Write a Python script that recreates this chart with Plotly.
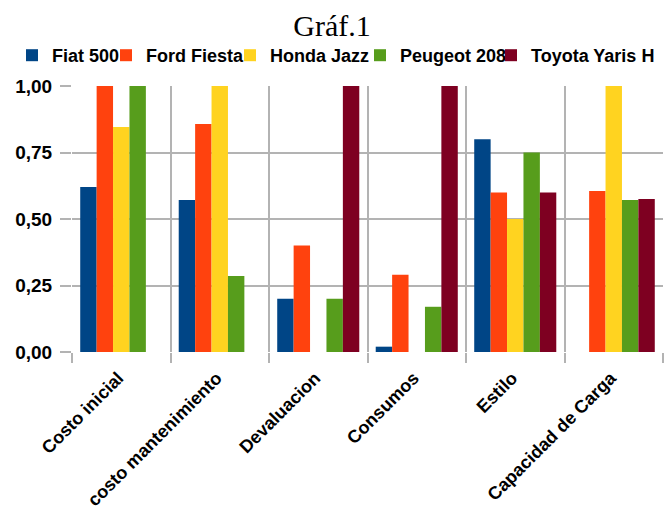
import plotly.graph_objects as go

# categories on the x axis
criterios = [
    "Costo inicial",
    "costo mantenimiento",
    "Devaluacion",
    "Consumos",
    "Estilo",
    "Capacidad de Carga",
]

# normalised scores per car
fiat_500 = [0.62, 0.571, 0.20, 0.02, 0.80, 0.0]
ford_fiesta = [1.00, 0.857, 0.40, 0.29, 0.60, 0.605]
honda_jazz = [0.846, 1.00, 0.0, 0.0, 0.50, 1.00]
peugeot_208 = [1.00, 0.286, 0.20, 0.17, 0.75, 0.571]
toyota_yaris = [0.0, 0.0, 1.00, 1.00, 0.60, 0.575]

y_ticks = [0, 0.25, 0.5, 0.75, 1.0]

# the source chart cuts the last name at the right edge
series = [
    ("Fiat 500", fiat_500, "#004586"),
    ("Ford Fiesta", ford_fiesta, "#ff420e"),
    ("Honda Jazz", honda_jazz, "#ffd320"),
    ("Peugeot 208", peugeot_208, "#579d1c"),
    ("Toyota Yaris H", toyota_yaris, "#7e0021"),
]

W, H = 664, 517
GRID = "#b3b3b3"
FONT = "Liberation Sans"

# left edge (px) of each legend entry, one legend per series so the row
# keeps the tight spacing of the original
legend_px = [12, 106, 230, 360, 491]
legend_ids = ["legend", "legend2", "legend3", "legend4", "legend5"]

fig = go.Figure()
for (name, vals, color), lid in zip(series, legend_ids):
    fig.add_trace(
        go.Bar(
            name=name,
            x=criterios,
            y=vals,
            marker=dict(color=color, line=dict(width=0)),
            legend=lid,
        )
    )

legend_font = dict(family=FONT, size=18, color="#000000", weight="bold")
layout_legends = {}
for lid, px in zip(legend_ids, legend_px):
    layout_legends[lid] = dict(
        orientation="h",
        xref="container",
        yref="container",
        x=px / W,
        y=1 - 55.5 / H,
        xanchor="left",
        yanchor="middle",
        font=legend_font,
        itemwidth=30,
        bgcolor="rgba(0,0,0,0)",
        borderwidth=0,
    )

fig.update_layout(
    width=W,
    height=H,
    margin=dict(l=72, r=1, t=86, b=165),
    paper_bgcolor="white",
    plot_bgcolor="white",
    separators=",.",
    barmode="group",
    bargap=0.167,
    bargroupgap=0,
    showlegend=True,
    title=dict(
        text="Gráf.1",
        x=0.5,
        xanchor="center",
        y=1 - 25 / H,
        yanchor="middle",
        font=dict(family="Liberation Serif", size=30, color="#000000"),
    ),
    xaxis=dict(
        type="category",
        tickson="boundaries",
        automargin=False,
        showgrid=True,
        gridcolor=GRID,
        gridwidth=1.5,
        ticks="outside",
        ticklen=10,
        tickwidth=1.5,
        tickcolor=GRID,
        tickangle=-45,
        tickfont=dict(family=FONT, size=18, color="#000000", weight="bold"),
        ticklabelstandoff=11,
        ticklabelshift=-3,
        showline=False,
        zeroline=False,
    ),
    yaxis=dict(
        range=[0, 1],
        tickvals=y_ticks,
        tickformat=".2f",
        automargin=False,
        showgrid=True,
        gridcolor=GRID,
        gridwidth=1.5,
        ticks="outside",
        ticklen=11,
        tickwidth=1.5,
        tickcolor=GRID,
        tickfont=dict(family=FONT, size=19, color="#000000", weight="bold"),
        ticklabelstandoff=4,
        showline=False,
        zeroline=False,
    ),
    **layout_legends,
)

# drop the default page margin so the figure sits at the window's corner
fig.write_html(
    "out.html",
    config={"displayModeBar": False},
    post_script="document.body.style.margin='0';document.body.style.overflow='hidden';",
)
